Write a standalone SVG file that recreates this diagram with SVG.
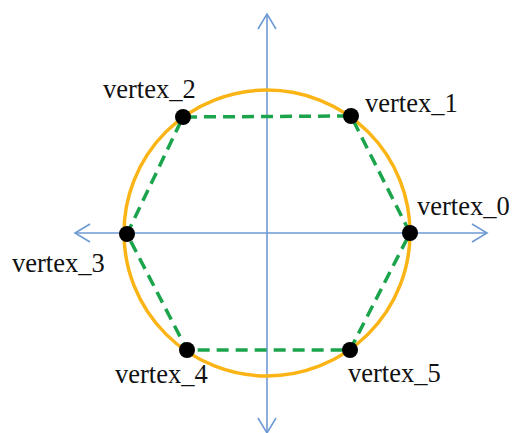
<svg xmlns="http://www.w3.org/2000/svg" width="512" height="433" viewBox="0 0 512 433">
<style>
.axis{stroke:#6E9AD4;stroke-width:1.6;fill:none}
.lbl{font-family:"Liberation Serif",Tinos,"Times New Roman",Times,"DejaVu Serif","Noto Serif",serif;font-size:26.5px;fill:#111}
.dot{fill:#000}
</style>
<rect width="512" height="433" fill="#fff"/>
<g id="axes">
<line class="axis" x1="267" y1="14" x2="267" y2="433"/>
<polyline class="axis" points="258,29 267,14 276,29"/>
<polyline class="axis" points="258,418 267,433 276,418"/>
<line class="axis" x1="75" y1="233" x2="487" y2="233"/>
<polyline class="axis" points="90,224 75,233 90,242"/>
<polyline class="axis" points="472,224 487,233 472,242"/>
</g>
<g id="circle">
<circle cx="267" cy="233" r="143" fill="none" stroke="#FBB416" stroke-width="3.5"/>
</g>
<g id="hexagon">
<polygon points="410,233 351,116 183,117 127,234 187,350 350,350" fill="none" stroke="#1BA44B" stroke-width="3.5" stroke-dasharray="12,7"/>
</g>
<g id="vertex_0"><circle class="dot" cx="410" cy="233" r="8"/><text class="lbl" x="417" y="215">vertex_0</text></g>
<g id="vertex_1"><circle class="dot" cx="351" cy="116" r="8"/><text class="lbl" x="365" y="112">vertex_1</text></g>
<g id="vertex_2"><circle class="dot" cx="183" cy="117" r="8"/><text class="lbl" x="103" y="98">vertex_2</text></g>
<g id="vertex_3"><circle class="dot" cx="127" cy="234" r="8"/><text class="lbl" x="12" y="272">vertex_3</text></g>
<g id="vertex_4"><circle class="dot" cx="187" cy="350" r="8"/><text class="lbl" x="115" y="383">vertex_4</text></g>
<g id="vertex_5"><circle class="dot" cx="350" cy="350" r="8"/><text class="lbl" x="348" y="382">vertex_5</text></g>
</svg>
